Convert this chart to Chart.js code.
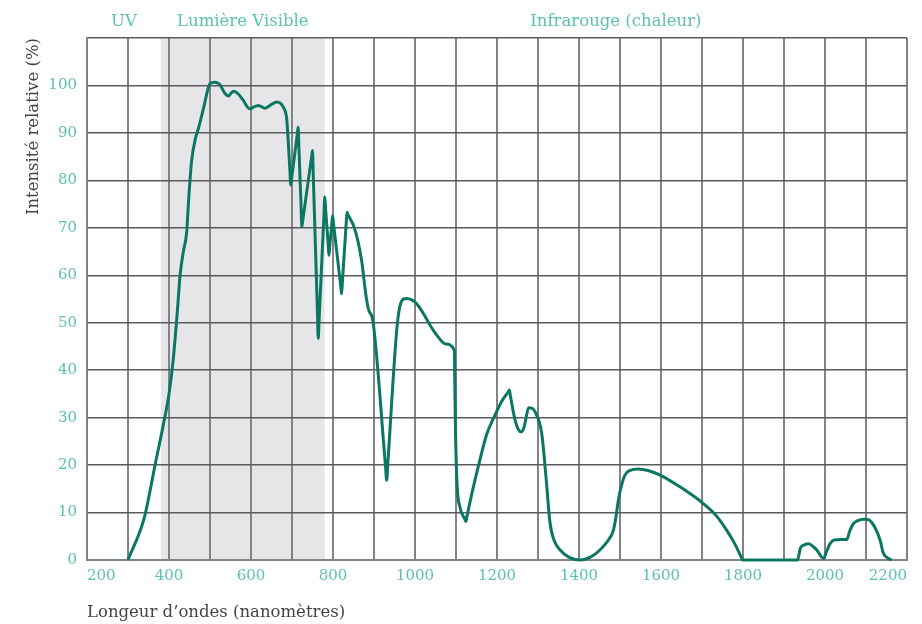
<!DOCTYPE html>
<html lang="fr">
<head>
<meta charset="utf-8">
<title>Spectre solaire</title>
<script src="https://cdn.jsdelivr.net/npm/chart.js@4.4.1/dist/chart.umd.min.js"></script>
<style>
  html, body { margin: 0; padding: 0; background: #ffffff; }
  #wrap { width: 922px; height: 624px; position: relative; }
</style>
</head>
<body>
<div id="wrap"><canvas id="spectre" width="922" height="624"></canvas></div>
<script>
// Longueurs d'onde (nm) et intensité relative (%) du spectre solaire
const wavelengths = [
  300, 340, 366, 385, 400, 410, 420, 427, 435, 443, 448, 455, 465, 472, 485,
  500, 512, 524, 535, 545, 557, 569, 580, 597, 610, 618, 634, 650, 663, 679,
  687, 691, 695, 697, 699, 713, 715, 717, 722, 724, 726, 748, 750, 752, 762,
  764, 766, 778, 780, 782, 788, 790, 792, 797, 799, 801, 819, 821, 823, 832,
  834, 837, 850, 860, 870, 880, 886, 898, 928, 931, 934, 955, 962, 972, 980,
  992, 1004, 1020, 1036, 1053, 1075, 1096, 1097, 1098, 1102, 1110, 1121, 1124, 1127, 1140,
  1158, 1175, 1195, 1212, 1228, 1230, 1233, 1244, 1252, 1260, 1266, 1271, 1277, 1285, 1293,
  1309, 1320, 1329, 1340, 1354, 1375, 1402, 1430, 1451, 1470, 1484, 1490, 1496, 1503, 1512,
  1525, 1545, 1570, 1598, 1650, 1703, 1735, 1760, 1780, 1797, 1799, 1933, 1940, 1950, 1960,
  1970, 1980, 1990, 1996, 2004, 2012, 2022, 2040, 2053, 2060, 2068, 2080, 2095, 2106, 2115,
  2125, 2135, 2142, 2152, 2163
];
const intensity = [
  0, 9, 20, 28, 35, 42, 52, 60, 65, 69, 76, 84, 89, 91, 95.5,
  100.4, 100.7, 100.2, 98.5, 97.8, 98.8, 98.2, 97, 95.1, 95.6, 95.8, 95.2, 96, 96.5, 95.4,
  93, 88, 82, 79, 80.4, 89.8, 91.2, 86.5, 74.9, 70.2, 71.4, 85.1, 86.3, 80.6, 52.4,
  46.7, 50.4, 72.8, 76.5, 74, 66.7, 64.2, 66.1, 70.7, 72.6, 71.1, 57.6, 56.1, 58.7, 70.7,
  73.3, 72.7, 70.5, 67.5, 63, 56, 53, 50, 19.8, 16.8, 20.7, 48, 53, 55, 55.1,
  54.8, 54, 52, 49.6, 47.4, 45.5, 44.2, 38, 31, 17, 11, 8.7, 8.1, 9.3, 14.5,
  21, 26.5, 30.5, 33.5, 35.5, 35.8, 34.4, 29.5, 27.5, 27, 28, 30, 32.1, 32, 31.2,
  26.7, 17, 8, 4, 2.1, 0.6, 0, 0.7, 2.1, 4, 6.3, 9, 12.6, 15.5, 17.9,
  18.9, 19.2, 18.8, 17.9, 15.2, 11.9, 9.3, 6.3, 3.4, 0.36, 0, 0, 2.5, 3.2, 3.4,
  2.9, 2.1, 0.8, 0.35, 1.8, 3.4, 4.2, 4.3, 4.3, 6.0, 7.5, 8.3, 8.6, 8.5, 7.8,
  6.3, 4, 1.5, 0.5, 0
];

// Domaines du spectre affichés au-dessus du graphique
const bandNames = ['UV', 'Lumière Visible', 'Infrarouge (chaleur)'];
const bandLimits = [[200, 380], [380, 780], [780, 2200]];
const visibleBand = [380, 780];

const xTickMin = 200, xTickMax = 2200, xStep = 100;
const yTickMin = 0, yTickMax = 110, yStep = 10;

const TEAL_TEXT = '#5cc1b0';
const LINE = '#0b7763';
const GREY_TEXT = '#444444';
const FONT = "'DejaVu Serif', 'Liberation Serif', serif";

const points = wavelengths.map((w, i) => ({ x: w, y: intensity[i] }));

// Bande grise de la lumière visible + libellés des domaines
const spectrumBands = {
  id: 'spectrumBands',
  beforeDraw(chart) {
    const { ctx, chartArea, scales } = chart;
    const x0 = scales.x.getPixelForValue(visibleBand[0]);
    const x1 = scales.x.getPixelForValue(visibleBand[1]);
    ctx.save();
    ctx.fillStyle = '#e6e6e9';
    ctx.fillRect(x0, chartArea.top, x1 - x0, chartArea.bottom - chartArea.top);
    ctx.restore();
  },
  afterDraw(chart) {
    const { ctx, chartArea, scales } = chart;
    ctx.save();
    ctx.fillStyle = TEAL_TEXT;
    ctx.font = "16.5px " + FONT;
    ctx.textAlign = 'center';
    ctx.textBaseline = 'middle';
    bandNames.forEach((name, i) => {
      const cx = (scales.x.getPixelForValue(bandLimits[i][0]) + scales.x.getPixelForValue(bandLimits[i][1])) / 2;
      ctx.fillText(name, cx, chartArea.top - 16);
    });
    ctx.restore();
  }
};

new Chart(document.getElementById('spectre'), {
  type: 'line',
  data: {
    datasets: [{
      data: points,
      borderColor: LINE,
      borderWidth: 3,
      pointRadius: 0,
      fill: false,
      cubicInterpolationMode: 'monotone',
      clip: 4
    }]
  },
  options: {
    responsive: false,
    animation: false,
    events: [],
    layout: { padding: { top: 38, right: 15, left: 0, bottom: 0 } },
    plugins: { legend: { display: false }, tooltip: { enabled: false } },
    scales: {
      x: {
        type: 'linear',
        min: xTickMin, max: xTickMax,
        afterFit(scale) { scale.height = 64; },
        grid: { color: '#838386', lineWidth: 2, drawTicks: false },
        border: { color: '#838386', width: 2 },
        ticks: {
          stepSize: xStep,
          autoSkip: false,
          maxRotation: 0,
          align: 'inner',
          padding: 7,
          color: TEAL_TEXT,
          font: { family: FONT, size: 15 },
          callback: (v) => (v % 200 === 0 ? String(v) : '')
        },
        title: {
          display: true,
          text: 'Longeur d’ondes (nanomètres)',
          align: 'start',
          color: GREY_TEXT,
          font: { family: FONT, size: 16.5 },
          padding: { top: 0, bottom: 1 }
        }
      },
      y: {
        min: yTickMin, max: yTickMax,
        afterFit(scale) { scale.width = 87; },
        grid: { color: '#5b5b5e', lineWidth: 1.5, drawTicks: false },
        border: { color: '#838386', width: 2 },
        ticks: {
          stepSize: yStep,
          padding: 10,
          color: TEAL_TEXT,
          font: { family: FONT, size: 15 },
          callback: (v) => (v < yTickMax ? String(v) : '')
        },
        title: {
          display: true,
          text: 'Intensité relative (%)',
          align: 'end',
          color: GREY_TEXT,
          font: { family: FONT, size: 16.5 },
          padding: { top: 24, bottom: 0 }
        }
      }
    }
  },
  plugins: [spectrumBands]
});
</script>
</body>
</html>
